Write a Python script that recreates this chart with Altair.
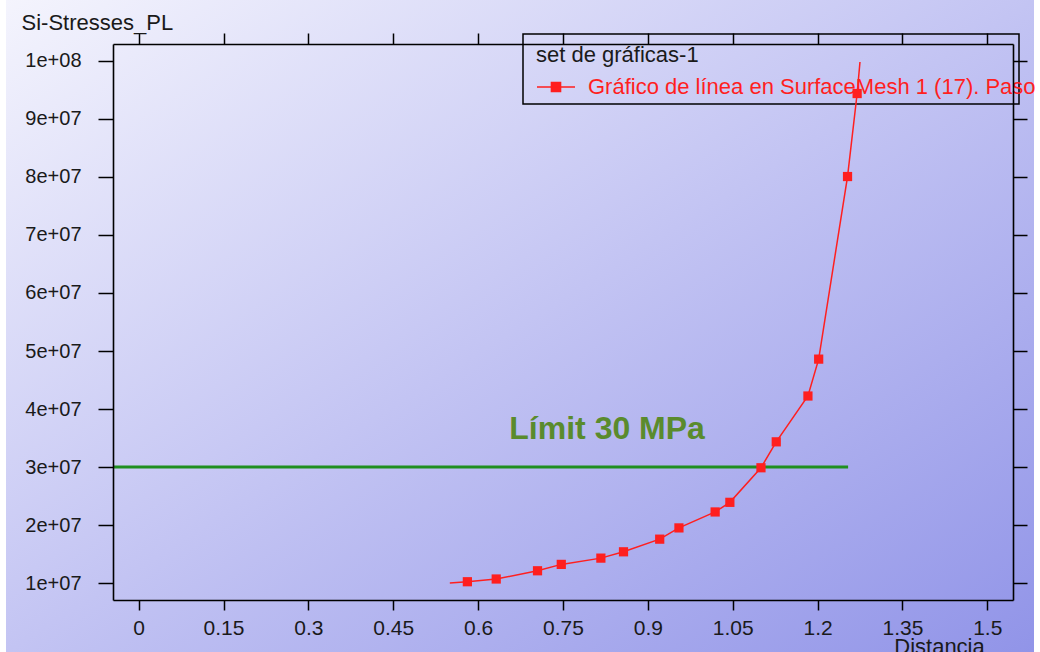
import altair as alt
import pandas as pd

# ---- data ----
dist = [0.550, 0.581, 0.632, 0.705, 0.747, 0.817, 0.857, 0.921, 0.955, 1.019,
        1.045, 1.100, 1.127, 1.183, 1.202, 1.253, 1.270, 1.275]
stress = [1.000e7, 1.022e7, 1.069e7, 1.211e7, 1.321e7, 1.429e7, 1.538e7, 1.756e7,
          1.950e7, 2.225e7, 2.391e7, 2.987e7, 3.434e7, 4.224e7, 4.860e7, 8.008e7,
          9.439e7, 9.983e7]
marker = [False] + [True] * 16 + [False]

x_ticks = [0, 0.15, 0.3, 0.45, 0.6, 0.75, 0.9, 1.05, 1.2, 1.35, 1.5]
y_ticks = [1e7, 2e7, 3e7, 4e7, 5e7, 6e7, 7e7, 8e7, 9e7, 1e8]

limit_x = [-0.045, 1.254]
limit_y = 3e7
limit_label = "Límit 30 MPa"
limit_label_pos = (0.828, 3.66e7)

series_name = "Gráfico de línea en SurfaceMesh 1 (17). Paso 1"
legend_title = "set de gráficas-1"
x_title = "Distancia"
y_title = "Si-Stresses_PL"

x_domain = [-0.0454, 1.5455]
y_domain = [0.707e7, 1.0293e8]

W, H = 900, 556
PAD = dict(left=113, top=44, right=1040 - 113 - W, bottom=652 - 44 - H)
FONT = "Liberation Sans"
RED = "#ff1f1f"

df = pd.DataFrame({"dist": dist, "stress": stress, "marker": marker,
                   "serie": [series_name] * len(dist)})
df_limit = pd.DataFrame({"x": [limit_x[0]], "x2": [limit_x[1]], "y": [limit_y]})
df_text = pd.DataFrame({"x": [limit_label_pos[0]], "y": [limit_label_pos[1]], "t": [limit_label]})
one = pd.DataFrame({"a": [0]})

xs = alt.Scale(domain=x_domain, nice=False, zero=False)
ys = alt.Scale(domain=y_domain, nice=False, zero=False)

# background gradient (decoration)
bg = alt.Chart(one).mark_rect(
    fill=alt.Gradient(gradient="linear",
                      stops=[alt.GradientStop(color="#f4f4fd", offset=0),
                             alt.GradientStop(color="#c3c4f3", offset=0.5),
                             alt.GradientStop(color="#9194e8", offset=1)],
                      x1=0, y1=0, x2=1, y2=1),
    clip=False,
).encode(x=alt.value(6 - PAD["left"]), x2=alt.value(1034 - PAD["left"]),
         y=alt.value(-PAD["top"]), y2=alt.value(652 - PAD["top"]))

# legend box (decoration)
legbox = alt.Chart(one).mark_rect(fill=None, stroke="black", strokeWidth=1.5, clip=False).encode(
    x=alt.value(523 - PAD["left"]), x2=alt.value(1019 - PAD["left"]),
    y=alt.value(34 - PAD["top"]), y2=alt.value(104 - PAD["top"]))

axis_common = dict(domainColor="black", domainWidth=1.6, tickColor="black", tickWidth=1.5,
                   grid=False, labelFont=FONT, labelColor="#1a1a1a",
                   titleFont=FONT, titleFontSize=22, titleFontWeight="normal", titleColor="#1a1a1a",
                   offset=0, zindex=1)

limit = alt.Chart(df_limit).mark_rule(color="#1f8f1f", strokeWidth=3).encode(
    x=alt.X("x:Q", scale=xs, axis=alt.Axis(orient="bottom", values=x_ticks, tickSize=10,
                                          format=".2~f", labelFontSize=21,
                                          labelPadding=7, labelFlush=False, labelOverlap=False,
                                          title=x_title, titleX=826, titleY=36,
                                          titleAlign="center", titleBaseline="top", **axis_common)),
    x2="x2:Q",
    y=alt.Y("y:Q", scale=ys, axis=alt.Axis(orient="left", values=y_ticks, tickSize=15,
                                          labelFontSize=20,
                                          labelPadding=17, labelOverlap=False, labelFlush=False,
                                          labelExpr="datum.value >= 1e8 ? '1e+08' : format(datum.value/1e7, 'd') + 'e+07'",
                                          title=y_title, titleAngle=0, titleX=-92, titleY=-22,
                                          titleAlign="left", titleBaseline="middle", **axis_common)),
)

line = alt.Chart(df).mark_line(color=RED, strokeWidth=1.5).encode(
    x=alt.X("dist:Q", scale=xs, axis=alt.Axis(orient="top", values=x_ticks, tickSize=11,
                                             labels=False, title=None, **axis_common)),
    y=alt.Y("stress:Q", scale=ys, axis=alt.Axis(orient="right", values=y_ticks, tickSize=14,
                                               labels=False, title=None, **axis_common)),
    color=alt.Color("serie:N", scale=alt.Scale(domain=[series_name], range=[RED]),
                    legend=alt.Legend(title=legend_title, orient="none",
                                      legendX=536 - PAD["left"], legendY=45 - PAD["top"],
                                      padding=0, titleFont=FONT, titleFontSize=22,
                                      titleFontWeight="normal", titleColor="#1a1a1a",
                                      titlePadding=0, labelFont=FONT, labelFontSize=22,
                                      labelColor=RED, labelLimit=2000, labelOffset=12,
                                      symbolType="M-1,0H1M-0.24,-0.24H0.24V0.24H-0.24Z",
                                      symbolSize=1444, symbolStrokeColor=RED,
                                      symbolFillColor=RED, symbolStrokeWidth=1.5)),
)

points = alt.Chart(df).transform_filter("datum.marker").mark_square(
    color=RED, size=85, opacity=1).encode(
    x=alt.X("dist:Q", scale=xs, axis=None), y=alt.Y("stress:Q", scale=ys, axis=None))

txt = alt.Chart(df_text).mark_text(font=FONT, fontSize=32, fontWeight="bold",
                                   color="#5a8b2d").encode(
    x=alt.X("x:Q", scale=xs, axis=None), y=alt.Y("y:Q", scale=ys, axis=None), text="t:N")

chart = alt.layer(bg, legbox, limit, line, points, txt).resolve_axis(
    x="independent", y="independent"
).properties(
    width=W, height=H, padding=PAD, autosize=alt.AutoSizeParams(type="none"),
    background="white",
).configure_view(stroke=None)

chart.save("out.html", embed_options={"renderer": "svg", "actions": False})
